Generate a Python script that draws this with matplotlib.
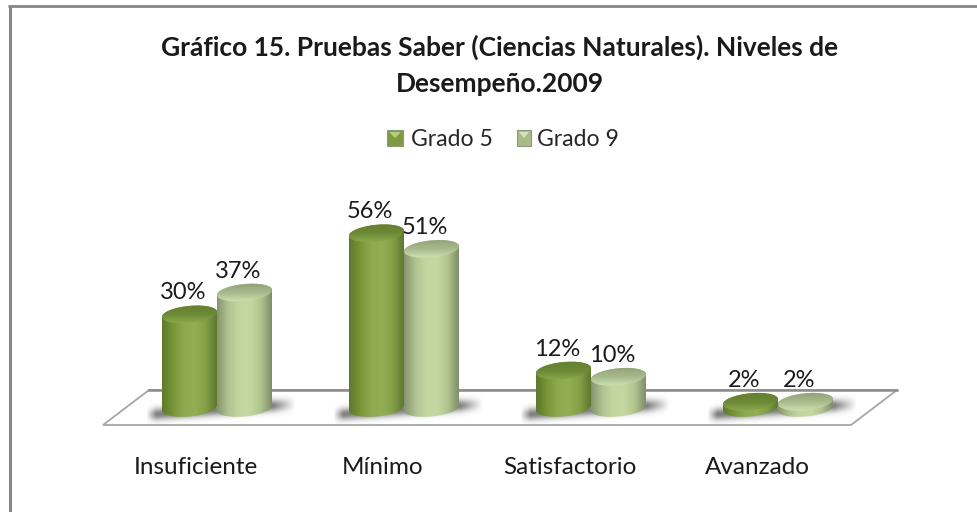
import numpy as np
import matplotlib
matplotlib.use('Agg')
from matplotlib import pyplot as plt
from matplotlib.colors import LinearSegmentedColormap
from matplotlib.patches import Polygon, Rectangle

plt.rcParams['font.family'] = ['Lato', 'DejaVu Sans']

categories = ['Insuficiente', 'Mínimo', 'Satisfactorio', 'Avanzado']
grado_5 = [30, 56, 12, 2]
grado_9 = [37, 51, 10, 2]
series_names = ['Grado 5', 'Grado 9']

W, H = 977, 512
X0, DX = 217.0, 187.0   # pixel of first category, pixels per category
Y0, DY = 408.0, 3.12    # pixel of the 0% base, pixels per percent


def xu(px):
    return (px - X0) / DX


def yu(py):
    return (Y0 - py) / DY


fig = plt.figure(figsize=(W / 100, H / 100), dpi=100)
ax = fig.add_axes([0, 0, 1, 1])
ax.set_xlim(xu(0), xu(W))
ax.set_ylim(yu(H), yu(0))
ax.axis('off')

# frame of the chart area, only top and left are visible
ax.plot([xu(9.5), xu(9.5)], [yu(H), yu(6)], color='#868686', lw=2.2, zorder=1, solid_capstyle='butt')
ax.plot([xu(8), xu(W)], [yu(6), yu(6)], color='#868686', lw=2.0, zorder=1, solid_capstyle='butt')

# floor
floor = [(xu(149), yu(390)), (xu(897), yu(390)), (xu(851), yu(425)), (xu(103), yu(425))]
ax.add_patch(Polygon(floor, closed=True, fc='white', ec='#a6a6a6', lw=1.3, zorder=1))
ax.plot([xu(149), xu(897)], [yu(390), yu(390)], color='#8c8c8c', lw=1.8, zorder=1)

cmap_5 = LinearSegmentedColormap.from_list('g5', ['#5f7a2c', '#789538', '#8daa50', '#93af55', '#84a046', '#5f7830'])
cmap_9 = LinearSegmentedColormap.from_list('g9', ['#87956f', '#b0c290', '#c4d6a0', '#c6d8a2', '#b2c58f', '#7f8f6a'])
top_5 = LinearSegmentedColormap.from_list('t5', ['#647f30', '#6c8936', '#8fae4e'])
top_9 = LinearSegmentedColormap.from_list('t9', ['#8f9f78', '#a8bb8c', '#d8e6b8'])

BAR_W = 55 / DX
RY_PX, TILT_PX = 8.5, 2.5
grad_x = np.linspace(0, 1, 64).reshape(1, -1)
grad_y = np.linspace(0, 1, 32).reshape(-1, 1)


def ell_pts(x, y, t):
    # tilted ellipse, the right end sits higher than the left one
    return np.column_stack([x + BAR_W / 2 * np.cos(t),
                            y + (RY_PX * np.sin(t) + TILT_PX * np.cos(t)) / DY])


def shadow(px):
    # soft shadow on the floor, it leaves the pair to the right and rises a little
    xs = np.linspace(px - 75, px + 75, 150)
    ys = np.linspace(394, 424, 60)
    gx, gy = np.meshgrid(xs, ys)
    yc = 415 - (gx - (px - 75)) / 150 * 11
    edge = np.clip(np.minimum((gx - (px - 75)) / 10, (px + 75 - gx) / 22), 0, 1)
    alpha = np.exp(-((gy - yc) / 6.0) ** 2) * edge
    ax.imshow(np.full(alpha.shape, 0.5), cmap='gray', vmin=0, vmax=1, alpha=alpha,
              extent=(xu(px - 75), xu(px + 75), yu(424), yu(394)),
              aspect='auto', zorder=2, interpolation='bilinear')


def cylinder(x, val, cmap, cmap_top, z):
    left, right = x - BAR_W / 2, x + BAR_W / 2
    pad = (RY_PX + TILT_PX) / DY
    im = ax.imshow(grad_x, cmap=cmap, extent=(left, right, -pad, val + pad), aspect='auto',
                   zorder=z, interpolation='bilinear')
    low = ell_pts(x, 0, np.linspace(np.pi, 2 * np.pi, 60))
    up = ell_pts(x, val, np.linspace(0, np.pi, 60))
    im.set_clip_path(Polygon(np.vstack([low, up]), transform=ax.transData))
    lid = ax.imshow(grad_y, cmap=cmap_top, extent=(left, right, val - pad, val + pad),
                    aspect='auto', zorder=z + 0.1, interpolation='bilinear')
    lid.set_clip_path(Polygon(ell_pts(x, val, np.linspace(0, 2 * np.pi, 120)), transform=ax.transData))


LABEL_DX = -6.5 / DX
for i, cat in enumerate(categories):
    shadow(X0 + i * DX + 4)
    cylinder(i - BAR_W / 2, grado_5[i], cmap_5, top_5, 4)
    cylinder(i + BAR_W / 2, grado_9[i], cmap_9, top_9, 3)
    ax.text(i - BAR_W / 2 + LABEL_DX, grado_5[i] + 3.5, '%d%%' % grado_5[i], ha='center', va='bottom',
            fontsize=17, color='#1a1a1a', zorder=6)
    ax.text(i + BAR_W / 2 + LABEL_DX, grado_9[i] + 3.5, '%d%%' % grado_9[i], ha='center', va='bottom',
            fontsize=17, color='#1a1a1a', zorder=6)
    ax.text(i - 0.112, yu(468), cat, ha='center', va='center', fontsize=17.5, color='#1a1a1a')

# title
ax.text(xu(500), yu(47), 'Gráfico 15. Pruebas Saber (Ciencias Naturales). Niveles de',
        ha='center', va='center', fontsize=19, fontweight='bold', color='#1a1a1a')
ax.text(xu(500), yu(84), 'Desempeño.2009', ha='center', va='center',
        fontsize=19, fontweight='bold', color='#1a1a1a')

# legend
swatches = [(387, 403, '#7f9a43', '#b6cc7a'), (517, 531, '#a9bb8b', '#d6e3bd')]
text_px = [411, 537]
for (p0, p1, c, hi), tx, name in zip(swatches, text_px, series_names):
    ax.add_patch(Rectangle((xu(p0), yu(146)), (p1 - p0) / DX, 16 / DY, fc=c, ec='#8d9a78', lw=0.8, zorder=5))
    ax.add_patch(Polygon([(xu(p0 + 2), yu(132)), (xu(p1 - 2), yu(132)), (xu((p0 + p1) / 2), yu(138))],
                         closed=True, fc=hi, ec='none', zorder=6))
    ax.text(xu(tx), yu(139), name, ha='left', va='center', fontsize=16.6, color='#262626')

ax.set_xlim(xu(0), xu(W))
ax.set_ylim(yu(H), yu(0))
fig.savefig('out.png', dpi=100)
